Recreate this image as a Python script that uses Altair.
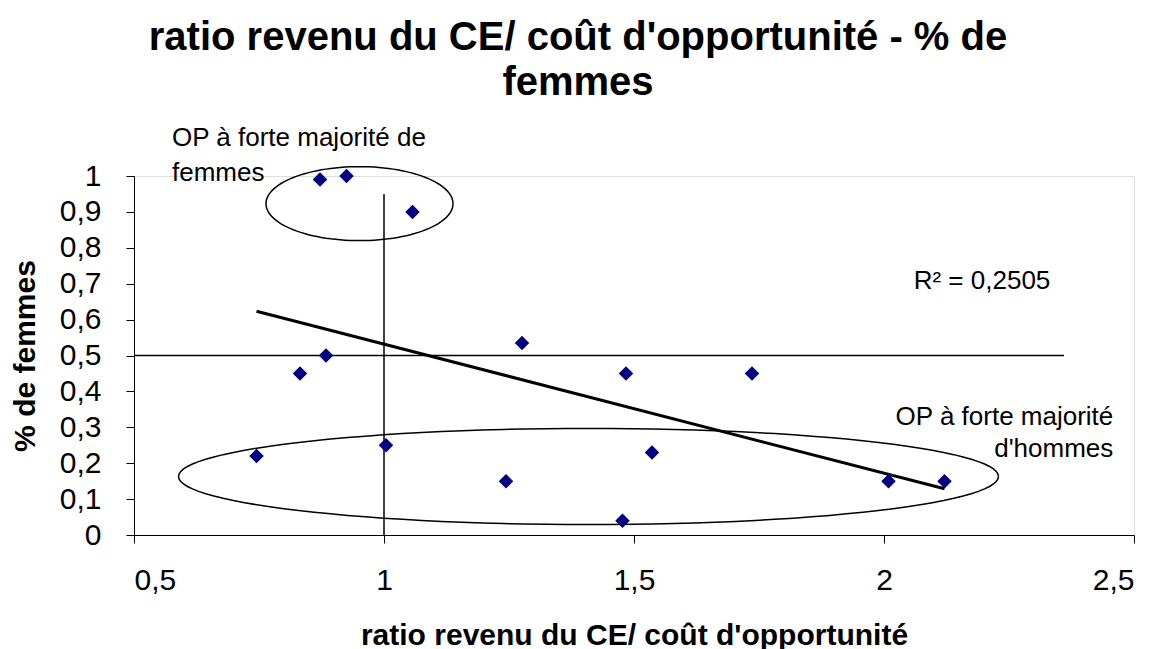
import altair as alt
import numpy as np
import pandas as pd

# ---- data -------------------------------------------------------------
ratio = [0.745, 0.832, 0.884, 0.872, 0.925, 1.057, 1.004, 1.244, 1.276,
         1.484, 1.536, 1.477, 1.736, 2.009, 2.121]
pct_femmes = [0.22, 0.45, 0.50, 0.99, 1.00, 0.90, 0.25, 0.15, 0.535,
              0.45, 0.23, 0.04, 0.45, 0.15, 0.15]

x_ticks = [0.5, 1.0, 1.5, 2.0, 2.5]
y_ticks = [0.0, 0.1, 0.2, 0.3, 0.4, 0.5, 0.6, 0.7, 0.8, 0.9, 1.0]

title_lines = ["ratio revenu du CE/ coût d'opportunité - % de", "femmes"]
x_title = "ratio revenu du CE/ coût d'opportunité"
y_title = "% de femmes"
r2_label = "R² = 0,2505"
note_femmes = ["OP à forte majorité de", "femmes"]
note_hommes = ["OP à forte majorité", "d'hommes"]

# reference lines (data units)
h_line_y, h_line_x0, h_line_x1 = 0.5, 0.5, 2.36
v_line_x, v_line_y0, v_line_y1 = 1.0, 0.0, 0.95

# ellipses: centre and radii in data units
ellipse_cx = [0.951, 1.409]
ellipse_cy = [0.923, 0.163]
ellipse_rx = [0.187, 0.820]
ellipse_ry = [0.103, 0.134]

# annotation anchors (data units)
note_femmes_pos = (0.576, 1.0836)
note_hommes_pos = (2.4586, 0.3064)
r2_pos = (2.3326, 0.685)

FONT = "Liberation Sans"

df = pd.DataFrame({"ratio": ratio, "pct": pct_femmes})

t = np.linspace(0, 2 * np.pi, 121)
ell_rows = []
for i, (cx, cy, rx, ry) in enumerate(zip(ellipse_cx, ellipse_cy, ellipse_rx, ellipse_ry)):
    for k, a in enumerate(t):
        ell_rows.append({"g": i, "k": k, "ex": cx + rx * np.cos(a), "ey": cy + ry * np.sin(a)})
ell_df = pd.DataFrame(ell_rows)

one = pd.DataFrame({"k": [0]})

label_expr = "replace(format(datum.value, '~g'), '.', ',')"

x_scale = alt.Scale(domain=[0.5, 2.5], nice=False, zero=False)
y_scale = alt.Scale(domain=[0, 1], nice=False, zero=False)

x_axis = alt.Axis(values=x_ticks, tickCount=len(x_ticks), labelExpr=label_expr,
                  labelFontSize=30, labelFont=FONT, labelColor="black", tickSize=8,
                  tickColor="black", labelPadding=22, labelOverlap=False,
                  domainColor="black", grid=False, title=x_title, titleFont=FONT,
                  titleFontSize=30, titleFontWeight="bold", titleColor="black",
                  titleBaseline="alphabetic", titleY=109)
y_axis = alt.Axis(values=y_ticks, tickCount=len(y_ticks), labelExpr=label_expr,
                  labelFontSize=30, labelFont=FONT, labelColor="black", tickSize=8,
                  tickColor="black", labelPadding=25, labelOverlap=False,
                  domainColor="black", grid=False, title=y_title, titleFont=FONT,
                  titleFontSize=30, titleFontWeight="bold", titleColor="black",
                  titleBaseline="alphabetic", titleX=-100, titleY=179.5, titleAngle=270)

points = alt.Chart(df).mark_point(shape="diamond", filled=True, size=210,
                                  color="#000080", opacity=1).encode(
    x=alt.X("ratio:Q", scale=x_scale, axis=x_axis),
    y=alt.Y("pct:Q", scale=y_scale, axis=y_axis),
)

trend = alt.Chart(df).transform_regression("ratio", "pct", method="linear").mark_line(
    color="black", strokeWidth=3).encode(x="ratio:Q", y="pct:Q")

h_rule = alt.Chart(one).mark_rule(color="black", strokeWidth=1.5).encode(
    x=alt.datum(h_line_x0), x2=alt.datum(h_line_x1), y=alt.datum(h_line_y))
v_rule = alt.Chart(one).mark_rule(color="black", strokeWidth=1.5).encode(
    x=alt.datum(v_line_x), y=alt.datum(v_line_y0), y2=alt.datum(v_line_y1))

ellipses = alt.Chart(ell_df).mark_line(color="black", strokeWidth=1.5).encode(
    x="ex:Q", y="ey:Q", detail="g:N", order="k:Q")

txt_f = alt.Chart(one).mark_text(text=note_femmes, font=FONT, fontSize=26, lineHeight=35,
                                 align="left", baseline="alphabetic", color="black").encode(
    x=alt.datum(note_femmes_pos[0]), y=alt.datum(note_femmes_pos[1]))
txt_h = alt.Chart(one).mark_text(text=note_hommes, font=FONT, fontSize=26, lineHeight=32,
                                 align="right", baseline="alphabetic", color="black").encode(
    x=alt.datum(note_hommes_pos[0]), y=alt.datum(note_hommes_pos[1]))
txt_r2 = alt.Chart(one).mark_text(text=r2_label, font=FONT, fontSize=26,
                                  align="right", baseline="alphabetic", color="black").encode(
    x=alt.datum(r2_pos[0]), y=alt.datum(r2_pos[1]))

chart = alt.layer(ellipses, h_rule, v_rule, trend, points, txt_f, txt_h, txt_r2).properties(
    width=1000, height=359,
    title=alt.TitleParams(title_lines, font=FONT, fontSize=40, fontWeight="bold",
                          color="black", anchor="middle", dx=-56, lineHeight=45, offset=22),
    autosize=alt.AutoSizeParams(type="none"),
    padding={"left": 126, "top": 168, "right": 15, "bottom": 114},
).configure_view(stroke="white", strokeWidth=0, strokeOpacity=0, fill="white").configure(
    background="white")

chart.save("out.html", embed_options={"renderer": "svg", "actions": False})
